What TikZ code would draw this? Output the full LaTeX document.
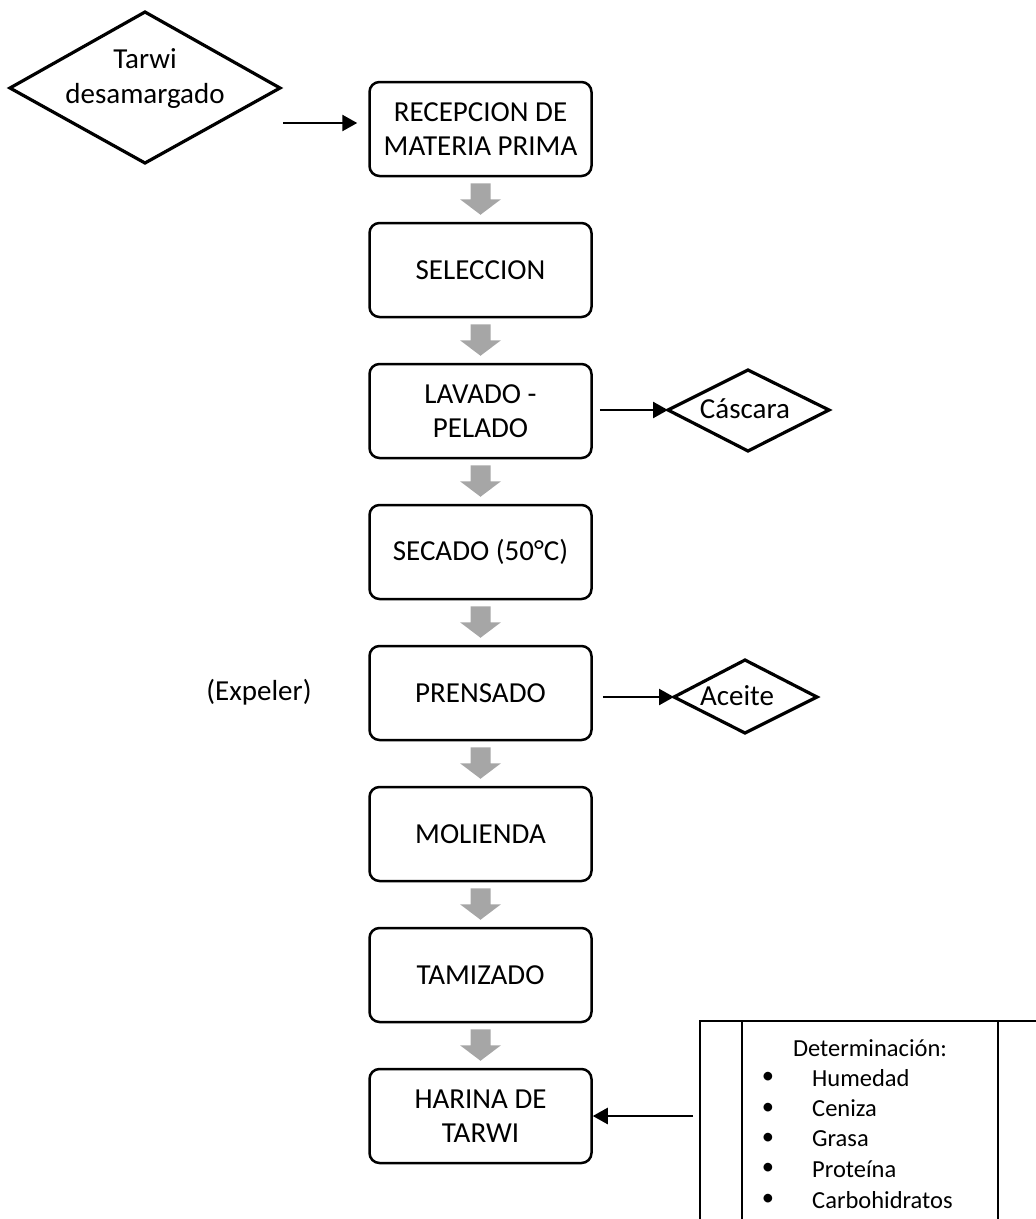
\documentclass[tikz,border=0pt]{standalone}
\usepackage{fontspec}
\setmainfont{Carlito}
\usetikzlibrary{arrows.meta,calc}
\definecolor{blockgray}{HTML}{A6A6A6}
\begin{document}
\begin{tikzpicture}[x=1pt,y=-1pt,
  stepbox/.style={draw, line width=2.5pt, rounded corners=10pt, minimum width=222pt, minimum height=94pt, align=center, inner sep=0pt, font=\fontsize{29}{34}\selectfont},
  maintext/.style={align=center, inner sep=0pt, font=\fontsize{29}{35}\selectfont},
  smalltext/.style={inner sep=0pt, font=\fontsize{24.5}{28}\selectfont},
  diamondline/.style={draw, line width=3.2pt, line join=miter},
  arr/.style={draw, line width=2.5pt, -{Triangle[length=15pt,width=16pt]}},
  panel/.style={draw, line width=2.5pt},
]
\clip (0,0) rectangle (1036,1219);
\useasboundingbox (0,0) rectangle (1036,1219);

% process boxes
\node[stepbox] (recep) at (480.5,129) {RECEPCION DE\\MATERIA PRIMA};
\node[stepbox] (selec) at (480.5,270) {SELECCION};
\node[stepbox] (lavado) at (480.5,411) {LAVADO -\\PELADO};
\node[stepbox] (secado) at (480.5,552) {SECADO (50°C)};
\node[stepbox] (prensado) at (480.5,693) {PRENSADO};
\node[stepbox] (molienda) at (480.5,834) {MOLIENDA};
\node[stepbox] (tamizado) at (480.5,975) {TAMIZADO};
\node[stepbox] (harina) at (480.5,1116) {HARINA DE\\TARWI};

% gray block arrows
\foreach \a/\b in {recep/selec, selec/lavado, lavado/secado, secado/prensado, prensado/molienda, molienda/tamizado, tamizado/harina}{
  \fill[blockgray] (\a.south) ++(-10,6) -- ++(20,0) -- ++(0,16) -- ++(10.5,0)
     -- ($(\b.north)+(0,-7)$) -- ($(\a.south)+(-20.5,22)$) -- ++(10.5,0) -- cycle;
}

% Tarwi desamargado diamond
\node[maintext] (tarwi) at (145,79) {Tarwi\\desamargado};
\draw[diamondline] (10,88) -- (145,12) -- (280,88) -- (145,163) -- cycle;
\coordinate (tarwiout) at (283,123);
\draw[arr, shorten >=11pt] (tarwiout) -- (tarwiout -| recep.west);

% Cascara
\node[maintext] (cascara) at (745,409) {Cáscara};
\coordinate (cascL) at (668,410);
\draw[diamondline] (cascL) -- (748,370) -- (829,410) -- (748,451) -- cycle;
\draw[arr] ([xshift=7pt]lavado.east |- cascL) -- (cascL);

% Aceite
\node[maintext] (aceite) at (737,696) {Aceite};
\coordinate (aceL) at (674,697);
\draw[diamondline] (aceL) -- (745,660) -- (817,697) -- (745,733) -- cycle;
\draw[arr] ([xshift=10pt]prensado.east |- aceL) -- (aceL);

% Expeler
\node[maintext] (expeler) at (259,692) {(Expeler)};

% Determination panel
\draw[panel] (700,1240) -- (700,1021) -- (1045,1021);
\draw[panel] (742,1021) -- (742,1240);
\draw[panel] (998,1021) -- (998,1240);
\node[smalltext] (det) at (870,1048) {Determinación:};
\foreach \t [count=\i from 0] in {Humedad, Ceniza, Grasa, Proteína, Carbohidratos}{
  \node[smalltext] (b\i) at (768,1078+30.4*\i) {•};
  \node[smalltext, anchor=west] (it\i) at (812,1078+30.4*\i) {\t};
}
\coordinate (detL) at (693,1116);
\draw[arr] (detL) -- (harina.east);
\end{tikzpicture}
\end{document}
